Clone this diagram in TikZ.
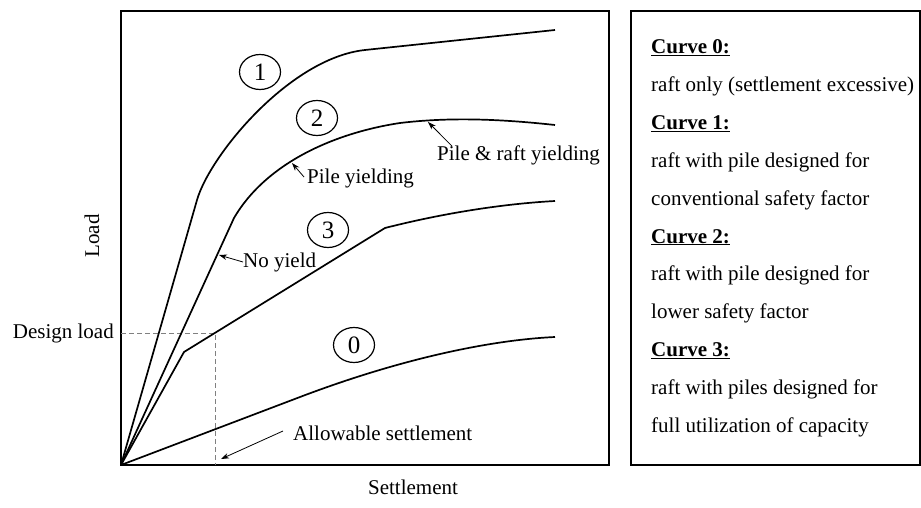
\documentclass[tikz,border=0pt]{standalone}
\usepackage{fontspec}
\setmainfont{Liberation Serif}
\usetikzlibrary{arrows.meta,shapes.geometric}
\begin{document}
\begin{tikzpicture}[x=1pt,y=-1pt,
  curve/.style={line width=1.7pt, line join=round},
  frame/.style={draw, line width=1.6pt},
  lbl/.style={font=\fontsize{21}{24}\selectfont, inner sep=0pt},
  num/.style={draw, ellipse, line width=1.2pt, minimum width=41pt, minimum height=35pt, inner sep=0pt, font=\fontsize{25}{28}\selectfont},
  pointer/.style={-{Stealth[length=8pt,width=5.5pt]}, line width=0.8pt},
  guide/.style={gray, line width=0.8pt, dash pattern=on 5pt off 3pt}]
\useasboundingbox (0,0) rectangle (921,508);
% frames
\draw[frame] (121,11) rectangle (609,465);
\draw[line width=1.3pt] (631,11) rectangle (920,465);
% axis labels
\node[lbl, rotate=90] (loadlbl) at (92,236) {Load};
\node[lbl] (setlbl) at (413,487) {Settlement};
\node[lbl, anchor=east] (dl) at (114,333) {Design load};
% guides
\coordinate (dlA) at (121,333);
\coordinate (dlC) at (215,333);
\coordinate (dlB) at (215,465);
\draw[guide] (dlA) -- (dlC) -- (dlB);
% curves
\coordinate (O) at (121,465);
\draw[curve] (O) -- (197,200) .. controls (210,155) and (290,58) .. (365,50) -- (555,30);
\draw[curve] (O) -- (234,218) .. controls (268,160) and (340,132) .. (400,123) .. controls (450,117) and (500,119) .. (555,125);
\draw[curve] (O) -- (184,352) -- (385,228) .. controls (440,214) and (500,204) .. (555,201);
\draw[curve] (O) -- (300,397) .. controls (400,359) and (490,340) .. (555,337);
% curve numbers
\node[num] (c1) at (260,72) {1};
\node[num] (c2) at (317,118) {2};
\node[num] (c3) at (328,230) {3};
\node[num] (c0) at (354,345) {0};
% annotations
\node[lbl, anchor=west] (ny) at (243,262) {No yield};
\coordinate (nyTip) at (219,255);
\draw[pointer] (ny.west) -- (nyTip);
\node[lbl, anchor=west] (py) at (307,178) {Pile yielding};
\coordinate (pyTip) at (292,163);
\draw[pointer] ([xshift=-3pt,yshift=1pt]py.west) -- (pyTip);
\node[lbl, anchor=west] (pr) at (437,155) {Pile \& raft yielding};
\coordinate (prTip) at (428,122);
\draw[pointer] ([xshift=15pt,yshift=-1pt]pr.north west) -- (prTip);
\node[lbl, anchor=west] (as) at (293,433) {Allowable settlement};
\coordinate (asTip) at (221,459);
\draw[pointer] ([xshift=-10pt,yshift=2pt]as.west) -- (asTip);
% legend
\foreach \i/\t in {0/{\textbf{\underline{Curve 0:}}},
                   1/{raft only (settlement excessive)},
                   2/{\textbf{\underline{Curve 1:}}},
                   3/{raft with pile designed for},
                   4/{conventional safety factor},
                   5/{\textbf{\underline{Curve 2:}}},
                   6/{raft with pile designed for},
                   7/{lower safety factor},
                   8/{\textbf{\underline{Curve 3:}}},
                   9/{raft with piles designed for},
                   10/{full utilization of capacity}}
  \node[lbl, anchor=base west] (leg\i) at (651,{54+37.8*\i}) {\t};
\end{tikzpicture}
\end{document}
